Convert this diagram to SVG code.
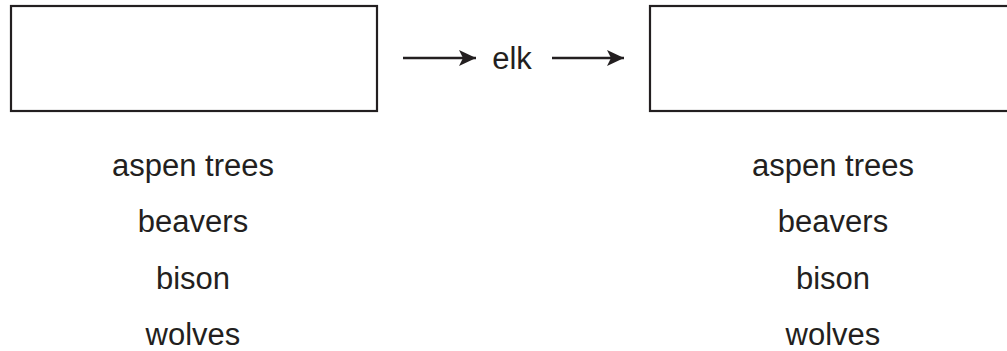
<svg xmlns="http://www.w3.org/2000/svg" width="1007" height="351" viewBox="0 0 1007 351">
<style>
.box{fill:#fff;stroke:#231f20;stroke-width:2.2}
.t{font-family:"Liberation Sans",Arial,sans-serif;font-size:31px;fill:#231f20;text-anchor:middle}
.c{stroke:#231f20;stroke-width:2.4;fill:none}
</style>
<defs>
<marker id="ah" markerUnits="userSpaceOnUse" markerWidth="20" markerHeight="18" refX="17" refY="8" orient="auto">
<path d="M0,0 L17,8 L0,16 L4,8 Z" fill="#231f20"/>
</marker>
</defs>
<rect width="1007" height="351" fill="#fff"/>
<g id="box-left"><rect class="box" x="11" y="6" width="366" height="105"/></g>
<g id="box-right"><rect class="box" x="650" y="6" width="380" height="105"/></g>
<g id="elk"><text class="t" x="512" y="69">elk</text></g>
<g id="connectors">
<line class="c" x1="403" y1="58" x2="476" y2="58" marker-end="url(#ah)"/>
<line class="c" x1="552" y1="58" x2="624" y2="58" marker-end="url(#ah)"/>
</g>
<g id="list-left">
<text class="t" x="193" y="176">aspen trees</text>
<text class="t" x="193" y="232">beavers</text>
<text class="t" x="193" y="289">bison</text>
<text class="t" x="193" y="345">wolves</text>
</g>
<g id="list-right">
<text class="t" x="833" y="176">aspen trees</text>
<text class="t" x="833" y="232">beavers</text>
<text class="t" x="833" y="289">bison</text>
<text class="t" x="833" y="345">wolves</text>
</g>
</svg>
